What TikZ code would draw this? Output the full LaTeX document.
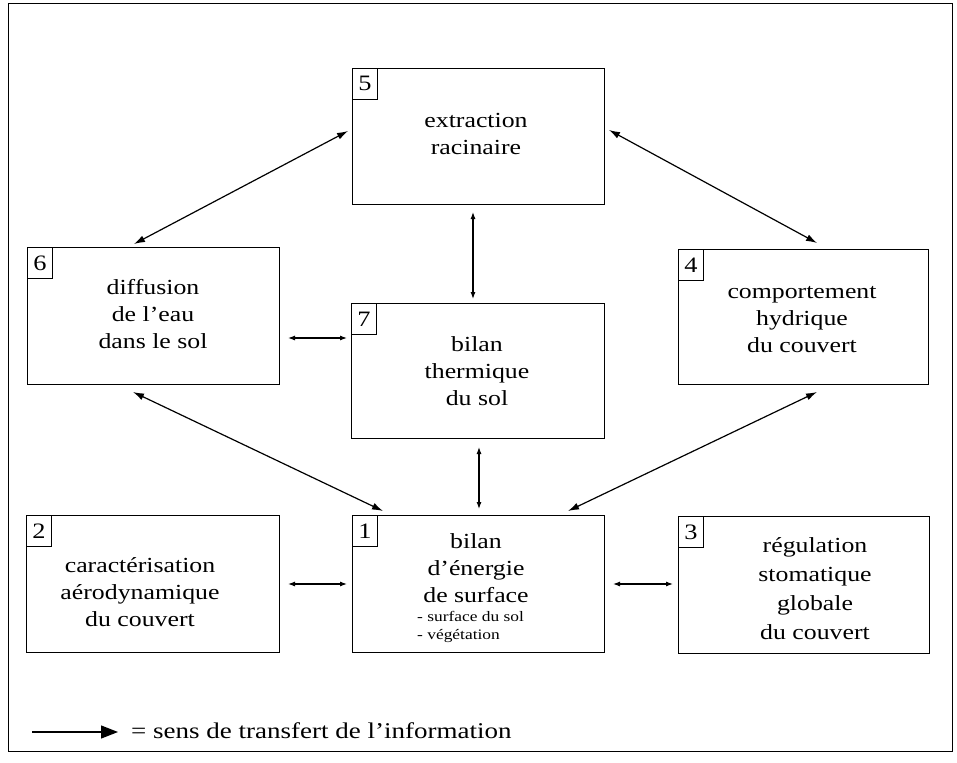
\documentclass[tikz,border=0pt]{standalone}
\usepackage{fontspec}
\setmainfont{Liberation Serif}[FakeStretch=1.2]
\usetikzlibrary{arrows.meta,calc}
\begin{document}
\begin{tikzpicture}[x=1pt,y=-1pt,
  box/.style={draw,line width=1pt,anchor=north west,inner sep=0pt},
  numbox/.style={draw,line width=0.8pt,anchor=north west,inner sep=0pt,
    minimum width=25pt,minimum height=31pt,font=\fontsize{22}{22}\selectfont},
  txt/.style={align=center,inner sep=0pt,font=\fontsize{21.5}{27}\selectfont},
  dar/.style={{Latex[length=11pt,width=7pt]}-{Latex[length=11pt,width=7pt]},line width=1.2pt},
  sar/.style={{Latex[length=7pt,width=5pt]}-{Latex[length=7pt,width=5pt]},line width=1.1pt}]
\useasboundingbox (0,0) rectangle (957,762);
\draw[line width=1pt] (8,4) rectangle (952,751);
% boxes
\node[box,minimum width=252pt,minimum height=136pt] (n5) at (352,68) {};
\node[box,minimum width=252pt,minimum height=137pt] (n6) at (27,247) {};
\node[box,minimum width=253pt,minimum height=135pt] (n7) at (351,303) {};
\node[box,minimum width=250pt,minimum height=135pt] (n4) at (678,249) {};
\node[box,minimum width=253pt,minimum height=137pt] (n2) at (26,515) {};
\node[box,minimum width=252pt,minimum height=137pt] (n1) at (352,515) {};
\node[box,minimum width=251pt,minimum height=137pt] (n3) at (678,516) {};
% number boxes
\node[numbox] (k5) at (n5.north west) {5};
\node[numbox] (k6) at (n6.north west) {6};
\node[numbox] (k7) at (n7.north west) {7};
\node[numbox] (k4) at (n4.north west) {4};
\node[numbox] (k2) at (n2.north west) {2};
\node[numbox] (k1) at (n1.north west) {1};
\node[numbox] (k3) at (n3.north west) {3};
% texts
\node[txt] (t5) at (476,134) {extraction\\racinaire};
\node[txt] (t6) at (153,314) {diffusion\\de l'eau\\dans le sol};
\node[txt] (t7) at (477,371) {bilan\\thermique\\du sol};
\node[txt] (t4) at (802,320) {comportement\\hydrique\\du couvert};
\node[txt] (t2) at (140,592) {caractérisation\\aérodynamique\\du couvert};
\node[txt,font=\fontsize{21.5}{29}\selectfont] (t3) at (815,589) {régulation\\stomatique\\globale\\du couvert};
\node[txt] (t1) at (476,568) {bilan\\d'énergie\\de surface};
\node[align=left,inner sep=0pt,anchor=west,font=\fontsize{14.5}{18}\selectfont] (t1b) at (417,627) {- surface du sol\\- végétation};
% connectors
\draw[dar] ($(n5.north west)+(-4,63)$) -- ($(n6.north west)+(107,-3)$);
\draw[dar] ($(n5.north east)+(4,62)$) -- ($(n4.north west)+(139,-6)$);
\draw[sar] ($(n5.south west)+(121,7)$) -- ($(n7.north west)+(122,-4)$);
\draw[sar] ($(n6.north east)+(8,91)$) -- ($(n7.north west)+(-4,35)$);
\draw[dar] ($(n6.south west)+(106,7)$) -- ($(n1.north west)+(31,-4)$);
\draw[sar] ($(n7.south west)+(128,8)$) -- ($(n1.north west)+(127,-6)$);
\draw[dar] ($(n4.south west)+(139,7)$) -- ($(n1.north west)+(216,-4)$);
\draw[sar] ($(n2.north east)+(8,69)$) -- ($(n1.north west)+(-5,69)$);
\draw[sar] ($(n1.north east)+(8,69)$) -- ($(n3.north west)+(-5,68)$);
% legend
\coordinate (la) at (32,732);
\coordinate (lb) at (118,732);
\draw[line width=1.2pt,-{Triangle[length=17pt,width=13pt]}] (la) -- (lb);
\node[anchor=west,inner sep=0pt,font=\fontsize{22.5}{24}\selectfont] (leg) at (131,731) {= sens de transfert de l'information};
\end{tikzpicture}
\end{document}
